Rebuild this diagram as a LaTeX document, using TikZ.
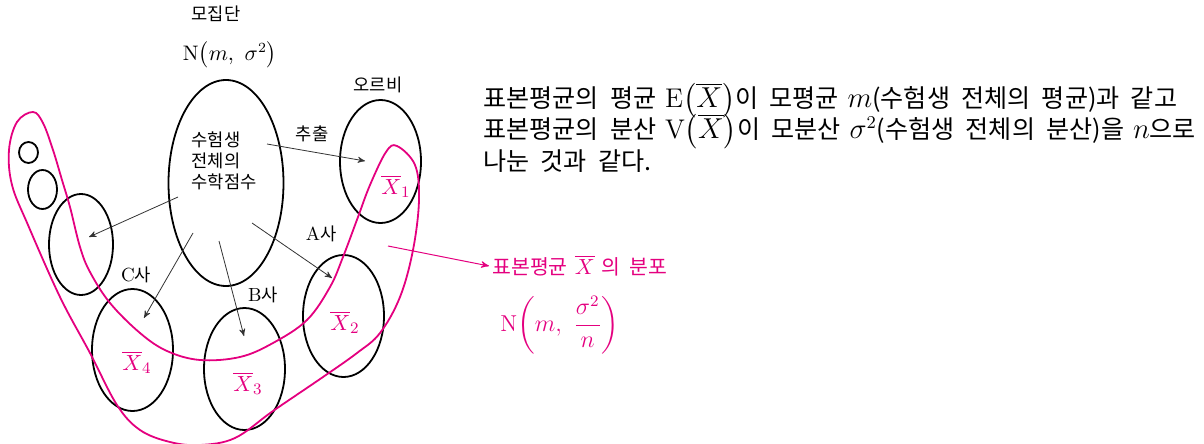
\documentclass[tikz,border=0pt]{standalone}
\usepackage{fontspec}
\newfontfamily\kr[Scale=0.93, WordSpace=2]{Noto Sans CJK KR}
\usepackage{amsmath}
\usetikzlibrary{arrows,shapes.geometric,calc}
\definecolor{mag}{HTML}{E4007F}

\begin{document}
\begin{tikzpicture}[x=0.5pt,y=-0.5pt,
  samp/.style={draw, ellipse, line width=0.9pt, inner sep=0pt},
  lab/.style={inner sep=0pt, font=\fontsize{9.5}{10.5}\selectfont\kr},
  xbar/.style={inner sep=0pt, text=mag, font=\fontsize{11}{12}\selectfont},
  arr/.style={->, >=stealth', line width=0.4pt, draw=black!80},
  line/.style={anchor=base west, inner sep=0pt, font=\fontsize{13.5}{15}\selectfont}]
\useasboundingbox (0,0) rectangle (1204,444);

% population and samples
\node[samp, minimum width=57.5pt, minimum height=103pt] (pop) at (226,183) {};
\node[samp, minimum width=40.5pt, minimum height=61.5pt] (orbi) at (380.5,161.5) {};
\node[samp, minimum width=40.5pt, minimum height=61pt] (compA) at (343.5,316) {};
\node[samp, minimum width=40.5pt, minimum height=61pt] (compB) at (244.5,369) {};
\node[samp, minimum width=40.5pt, minimum height=61pt] (compC) at (132.5,350) {};
\node[samp, minimum width=32pt, minimum height=50.5pt] (compD) at (81,244.5) {};
\node[samp, minimum width=14.5pt, minimum height=19.5pt] (compE) at (42.5,189.5) {};
\node[samp, minimum width=9.5pt, minimum height=10.5pt] (compF) at (28.5,152.5) {};

\node[lab] (popname) at (216,14) {모집단};
\node[inner sep=0pt, font=\fontsize{10.5}{12}\selectfont] (popdist) at (230,55) {$\mathrm{N}\bigl(m,\ \sigma^2\bigr)$};
\node[lab, align=left] (poptext) at (224,161) {수험생\\전체의\\수학점수};
\node[lab] (orbiname) at (378,85) {오르비};
\node[lab] (take) at (312,134) {추출};
\node[lab] (nameA) at (321,234) {$\mathrm{A}$사};
\node[lab] (nameB) at (263,295) {$\mathrm{B}$사};
\node[lab] (nameC) at (136,275) {$\mathrm{C}$사};

\node[xbar] (mean1) at (396,186) {$\overline{X}_1$};
\node[xbar] (mean2) at (345,322) {$\overline{X}_2$};
\node[xbar] (mean3) at (248,383) {$\overline{X}_3$};
\node[xbar] (mean4) at (137,362) {$\overline{X}_4$};

% sampling arrows
\coordinate (s1) at (267,144); \coordinate (e1) at (365,161);
\coordinate (s2) at (252,223); \coordinate (e2) at (332,278);
\coordinate (s3) at (219,241); \coordinate (e3) at (244,336);
\coordinate (s4) at (193,233); \coordinate (e4) at (144,318);
\coordinate (s5) at (178,197); \coordinate (e5) at (89,237);
\foreach \i in {1,...,5}
  \draw[arr] (s\i) -- (e\i);

% distribution of the sample mean
\draw[mag, line width=0.9pt] plot[smooth cycle, tension=0.6] coordinates {
  (33,112) (17,122) (9,150) (12,185) (28,225) (60,297) (90,353) (117,405)
  (140,430) (170,442) (200,445) (235,438) (273,411) (323,377) (357,353)
  (380,333) (400,297) (413,250) (419,200) (415,165) (397,146) (386,152)
  (370,185) (358,217) (343,257) (330,287) (307,320) (273,343) (240,357)
  (200,360) (167,351) (140,333) (110,303) (90,272) (80,247) (70,207)
  (62,180) (53,150) (43,123)};

\coordinate (dstart) at (388,246);
\node[anchor=west, inner sep=1.5pt, text=mag, font=\fontsize{11}{12}\selectfont] (dist) at (489,266)
  {{\kr 표본평균} $\overline{X}$ {\kr 의 분포}};
\draw[->, >=stealth', draw=mag, line width=0.5pt] (dstart) -- (dist.west);
\node[inner sep=0pt, text=mag, font=\fontsize{11.5}{14}\selectfont] (distN) at (560,325)
  {$\mathrm{N}\!\left(m,\ \dfrac{\sigma^2}{n}\right)$};

% explanation
\node[line] (l1) at (483,108) {{\kr 표본평균의 평균} $\mathrm{E}\bigl(\overline{X}\bigr)${\kr 이 모평균} $m${\kr (수험생 전체의 평균)과 같고}};
\node[line] (l2) at (483,139) {{\kr 표본평균의 분산} $\mathrm{V}\bigl(\overline{X}\bigr)${\kr 이 모분산} $\sigma^2${\kr (수험생 전체의 분산)을} $n${\kr 으로}};
\node[line] (l3) at (483,170) {\kr 나눈 것과 같다.};
\end{tikzpicture}
\end{document}
